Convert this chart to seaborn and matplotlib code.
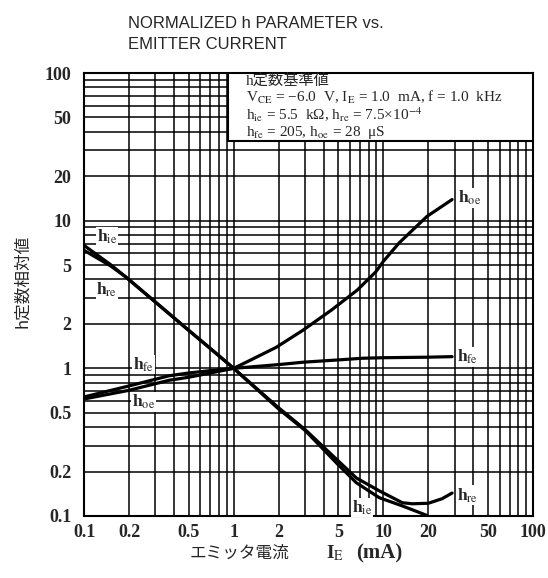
import numpy as np
import pandas as pd
import matplotlib
matplotlib.use("Agg")
import matplotlib.pyplot as plt
import matplotlib.patches as mpatches
from matplotlib.ticker import FixedLocator, FixedFormatter, LogLocator, NullFormatter
import seaborn as sns

# ---------------- data ----------------
I_hie = [0.1, 0.15, 0.19, 0.3, 0.5, 0.7, 1.0, 2.0, 3.0, 5.0, 6.6, 9.4, 13.4, 19.5]
v_hie = [6.8, 5.05, 4.16, 2.81, 1.81, 1.36, 1.0, 0.53, 0.38, 0.222, 0.168, 0.133, 0.117, 0.101]

I_hre = [0.1, 0.15, 0.19, 0.3, 0.5, 0.7, 1.0, 2.0, 3.0, 5.0, 6.6, 9.4, 13.4, 15.6, 20.0, 24.7, 28.8]
v_hre = [6.3, 4.95, 4.16, 2.81, 1.81, 1.36, 1.0, 0.54, 0.385, 0.236, 0.181, 0.148, 0.123, 0.121, 0.122, 0.131, 0.143]

I_hfe = [0.1, 0.2, 0.37, 0.5, 0.7, 1.0, 2.0, 2.9, 5.0, 7.2, 10.0, 20.0, 28.8]
v_hfe = [0.64, 0.76, 0.89, 0.93, 0.965, 1.0, 1.06, 1.1, 1.14, 1.17, 1.18, 1.19, 1.2]

I_hoe = [0.1, 0.2, 0.37, 0.5, 0.7, 1.0, 1.28, 1.93, 2.9, 4.5, 6.7, 8.9, 10.0, 12.8, 19.6, 28.8]
v_hoe = [0.62, 0.71, 0.83, 0.87, 0.93, 1.0, 1.13, 1.39, 1.81, 2.48, 3.39, 4.5, 5.3, 7.1, 10.7, 13.9]

x_ticks = [0.1, 0.2, 0.5, 1, 2, 5, 10, 20, 50, 100]
x_ticklabels = ["0.1", "0.2", "0.5", "1", "2", "5", "10", "20", "50", "100"]
y_ticks = [0.1, 0.2, 0.5, 1, 2, 5, 10, 20, 50, 100]
y_ticklabels = ["0.1", "0.2", "0.5", "1", "2", "5", "10", "20", "50", "100"]

title_lines = ["NORMALIZED h PARAMETER vs.", "EMITTER CURRENT"]
y_label = "h定数相対値"
x_label_jp = "エミッタ電流"
x_label_sym = "I$_{\\mathrm{E}}$"
x_label_unit = "(mA)"
box_lines = [
    "h定数基準値",
    "V$_{\\mathrm{CE}}$ = −6.0  V, I$_{\\mathrm{E}}$ = 1.0  mA, f = 1.0  kHz",
    "h$_{\\mathrm{ie}}$ = 5.5  kΩ, h$_{\\mathrm{re}}$ = 7.5×10$^{-4}$",
    "h$_{\\mathrm{fe}}$ = 205, h$_{\\mathrm{oe}}$ = 28  μS",
]

# ---------------- style ----------------
sns.set_style("white")
plt.rcParams['font.family'] = ['Liberation Serif', 'Noto Sans CJK JP', 'DejaVu Sans']
plt.rcParams['mathtext.fontset'] = 'stix'
plt.rcParams['axes.unicode_minus'] = False

df = pd.concat([
    pd.DataFrame({"I": I_hie, "h": v_hie, "param": "hie"}),
    pd.DataFrame({"I": I_hre, "h": v_hre, "param": "hre"}),
    pd.DataFrame({"I": I_hfe, "h": v_hfe, "param": "hfe"}),
    pd.DataFrame({"I": I_hoe, "h": v_hoe, "param": "hoe"}),
], ignore_index=True)

fig = plt.figure(figsize=(5.48, 5.78), dpi=100)
ax = fig.add_axes([84/548, 1-516/578, 449/548, 443/578])

sns.lineplot(data=df, x="I", y="h", hue="param",
             palette={"hie": "black", "hre": "black", "hfe": "black", "hoe": "black"},
             estimator=None, legend=False, linewidth=2.3, ax=ax, zorder=4)

ax.set_xscale("log")
ax.set_yscale("log")
ax.set_xlim(0.1, 100)
ax.set_ylim(0.1, 100)
ax.xaxis.set_major_locator(FixedLocator(x_ticks))
ax.xaxis.set_major_formatter(FixedFormatter(x_ticklabels))
ax.yaxis.set_major_locator(FixedLocator(y_ticks))
ax.yaxis.set_major_formatter(FixedFormatter(y_ticklabels))
ax.xaxis.set_minor_locator(LogLocator(base=10, subs=np.arange(1, 10)))
ax.yaxis.set_minor_locator(LogLocator(base=10, subs=np.arange(1, 10)))
ax.xaxis.set_minor_formatter(NullFormatter())
ax.yaxis.set_minor_formatter(NullFormatter())
ax.grid(which="both", color="black", linewidth=1.1)
ax.set_axisbelow(True)
ax.tick_params(which="both", length=0)
ax.tick_params(axis="x", pad=6)
ax.tick_params(axis="y", pad=9)
for lab in ax.get_xticklabels() + ax.get_yticklabels():
    lab.set_fontfamily("Liberation Serif")
    lab.set_fontweight("bold")
    lab.set_fontsize(13)
for s in ax.spines.values():
    s.set_color("black")
    s.set_linewidth(1.5)
ax.set_xlabel("")
ax.set_ylabel("")

# reference-value box
rect = mpatches.Rectangle((0.32, 0.846), 0.68, 0.154, transform=ax.transAxes,
                          facecolor="white", edgecolor="black", linewidth=1.5, zorder=3)
ax.add_patch(rect)
for txt, yy in zip(box_lines, [0.984, 0.945, 0.906, 0.866]):
    ax.text(0.361, yy, txt, transform=ax.transAxes, ha="left", va="center",
            fontsize=11, zorder=5)

# curve labels
lab_kw = dict(fontsize=12.5, fontweight="bold", zorder=6, va="center")
bb = dict(facecolor="white", edgecolor="none", pad=0.5)
ax.text(0.142, 7.8, "h$_{\\mathrm{ie}}$", ha="center", bbox=bb, **lab_kw)
ax.text(0.142, 3.4, "h$_{\\mathrm{re}}$", ha="center", bbox=bb, **lab_kw)
ax.text(0.25, 1.06, "h$_{\\mathrm{fe}}$", ha="center", bbox=bb, **lab_kw)
ax.text(0.25, 0.59, "h$_{\\mathrm{oe}}$", ha="center", bbox=bb, **lab_kw)
ax.text(31.5, 14.2, "h$_{\\mathrm{oe}}$", ha="left", bbox=bb, **lab_kw)
ax.text(31.0, 1.2, "h$_{\\mathrm{fe}}$", ha="left", bbox=bb, **lab_kw)
ax.text(31.0, 0.138, "h$_{\\mathrm{re}}$", ha="left", bbox=bb, **lab_kw)
ax.text(7.2, 0.114, "h$_{\\mathrm{ie}}$", ha="center", bbox=bb, **lab_kw)

# titles and axis labels
fig.text(128/548, 1-28/578, title_lines[0], ha="left", va="baseline",
         family="Liberation Sans", fontsize=12)
fig.text(128/548, 1-49/578, title_lines[1], ha="left", va="baseline",
         family="Liberation Sans", fontsize=12)
fig.text(23/548, 1-281/578, y_label, rotation=90, ha="center", va="center",
         family=["Noto Sans CJK JP", "DejaVu Sans"], fontsize=12)
fig.text(190/548, 1-553/578, x_label_jp, ha="left", va="center",
         family=["Noto Sans CJK JP", "DejaVu Sans"], fontsize=12)
fig.text(326/548, 1-553/578, x_label_sym, ha="left", va="center",
         family="Liberation Serif", fontweight="bold", fontsize=14)
fig.text(356/548, 1-553/578, x_label_unit, ha="left", va="center",
         family="Liberation Serif", fontweight="bold", fontsize=15)

fig.savefig("out.png", dpi=100)
